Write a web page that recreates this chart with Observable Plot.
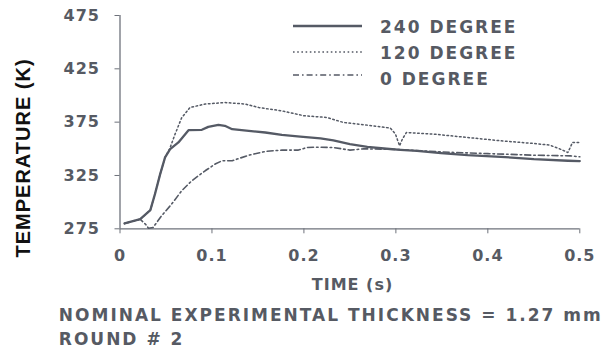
<!DOCTYPE html>
<html><head><meta charset="utf-8">
<script src="https://cdn.jsdelivr.net/npm/d3@7"></script>
<script src="https://cdn.jsdelivr.net/npm/@observablehq/plot@0.6"></script>
<style>html,body{margin:0;padding:0;background:#fff;} #chart{width:608px;height:350px;overflow:hidden}</style>
</head><body><div id="chart"></div>
<script>
// ---- data ----
const seriesNames = ["240 DEGREE", "120 DEGREE", "0 DEGREE"];
const time240 = [0.005, 0.022, 0.033, 0.038, 0.0436, 0.049, 0.0545, 0.0635, 0.0745, 0.089, 0.096, 0.107, 0.114, 0.122, 0.14, 0.158, 0.176, 0.196, 0.218, 0.232, 0.25, 0.269, 0.287, 0.305, 0.323, 0.349, 0.378, 0.414, 0.45, 0.487, 0.5];
const temp240 = [280, 284, 292.5, 307.5, 326, 342, 349.7, 356, 367.5, 367.8, 370.6, 372.5, 371.6, 368.4, 366.9, 365.3, 363, 361.5, 359.7, 358, 354.4, 351.9, 350.3, 349, 348, 346, 344, 342.5, 340.3, 338.8, 338.5];
const time120 = [0.005, 0.022, 0.033, 0.038, 0.0436, 0.049, 0.054, 0.06, 0.067, 0.076, 0.0926, 0.114, 0.136, 0.151, 0.176, 0.2, 0.225, 0.243, 0.269, 0.294, 0.2996, 0.304, 0.307, 0.3115, 0.341, 0.378, 0.414, 0.45, 0.467, 0.478, 0.487, 0.49, 0.492, 0.5];
const temp120 = [280, 284, 292.5, 307.5, 326, 342, 350, 364, 379, 388.7, 392, 393.4, 392, 388.7, 385.6, 381, 379.4, 374.7, 372.2, 369.4, 363.8, 352.8, 359, 365.3, 363.8, 360.6, 357.5, 355, 353.5, 350, 346.5, 352, 356, 356];
const time0 = [0.005, 0.022, 0.028, 0.031, 0.036, 0.045, 0.056, 0.067, 0.078, 0.0926, 0.1035, 0.111, 0.122, 0.14, 0.158, 0.176, 0.194, 0.203, 0.214, 0.232, 0.25, 0.265, 0.3, 0.35, 0.4, 0.45, 0.49, 0.5];
const temp0 = [280, 284, 279, 275.5, 276.2, 287, 298, 310.6, 320, 329.4, 335.7, 338.8, 338.8, 344, 347.5, 348.8, 348.8, 351.2, 351.5, 351.2, 348.8, 350, 349.5, 347, 345.5, 344, 343.4, 342.5];
const xTicks = [0, 0.1, 0.2, 0.3, 0.4, 0.5];
const yTicks = [275, 325, 375, 425, 475];
const xLabel = "TIME (s)";
const yLabel = "TEMPERATURE (K)";
const captionLines = ["NOMINAL EXPERIMENTAL THICKNESS = 1.27 mm", "ROUND # 2"];

// ---- styles ----
const INK = "#565a63", LINE = "#555a65", AXIS = "#6e727b";
const lineStyles = [
  {dash: null, width: 2.3},
  {dash: "1.6,2.6", width: 1.5},
  {dash: "6,3,1.6,3", width: 1.6}
];
const series = [[time240, temp240], [time120, temp120], [time0, temp0]];

const chart = Plot.plot({
  width: 608, height: 350,
  marginLeft: 119.5, marginRight: 28.7, marginTop: 15, marginBottom: 121.7,
  x: {domain: [0, 0.5]},
  y: {domain: [275, 475]},
  style: {fontFamily: "DejaVu Sans", fontWeight: "bold", fontSize: "16px", color: INK, background: "#fff", letterSpacing: "1px", overflow: "visible"},
  marks: [
    Plot.ruleX([0], {stroke: AXIS, strokeWidth: 1.3}),
    Plot.ruleY([275], {stroke: AXIS, strokeWidth: 1.3}),
    Plot.axisX({ticks: xTicks, tickSize: 5, tickPadding: 16, tickFormat: d => String(d), label: null, stroke: AXIS, fill: INK}),
    Plot.axisY({ticks: yTicks, tickSize: 5, tickPadding: 15, tickFormat: d => String(d), label: null, stroke: AXIS, fill: INK}),
    ...series.map(([t, T], i) => Plot.line(t, {
      x: t, y: T, stroke: LINE, strokeWidth: lineStyles[i].width,
      strokeDasharray: lineStyles[i].dash || undefined, strokeLinejoin: "round", curve: "linear"
    })),
    Plot.text([yLabel], {frameAnchor: "left", text: d => d, rotate: -90, textAnchor: "middle", lineAnchor: "middle",
      dx: -96.5, dy: 35.8, fontFamily: "Liberation Sans", fontSize: 20, fontWeight: "bold", fill: "#111"}),
    Plot.text([xLabel], {frameAnchor: "bottom", text: d => d, textAnchor: "middle", lineAnchor: "bottom", dx: 2.6, dy: 60.7, fontSize: 16, fill: INK}),
    Plot.text([captionLines.join("\n")], {frameAnchor: "bottom-left", text: d => d, textAnchor: "start", lineAnchor: "bottom",
      lineHeight: 24 / 17, dx: -61.2, dy: 115.7, fontSize: 17, fill: INK, ariaDescription: "caption"})
  ]
});

const svg = d3.select(chart);
svg.select('g[aria-description="caption"]').style("letter-spacing", "2px");

// legend
const legendLineY = [26, 52, 75];
const legendTextY = [32.5, 58.5, 85];
const lg = svg.append("g").attr("font-family", "DejaVu Sans").attr("font-weight", "bold")
  .attr("font-size", 17).attr("text-anchor", "start").style("letter-spacing", "2px").attr("fill", INK);
seriesNames.forEach((name, i) => {
  lg.append("line").attr("x1", 293).attr("x2", 362).attr("y1", legendLineY[i]).attr("y2", legendLineY[i])
    .attr("stroke", LINE).attr("stroke-width", lineStyles[i].width)
    .attr("stroke-dasharray", lineStyles[i].dash);
  lg.append("text").attr("x", 380).attr("y", legendTextY[i]).text(name);
});

document.getElementById("chart").appendChild(chart);
</script></body></html>
